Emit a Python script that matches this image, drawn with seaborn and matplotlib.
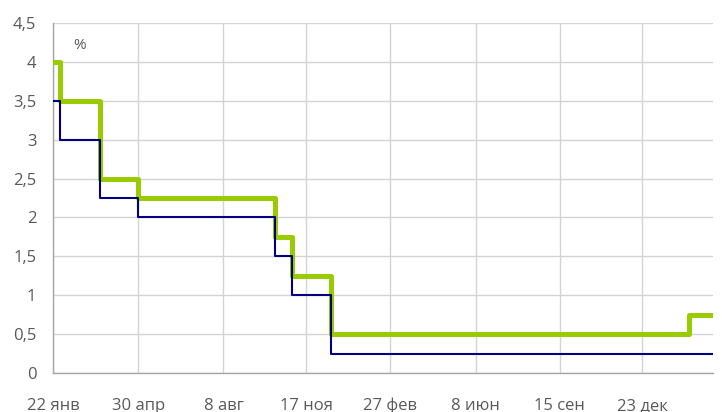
import numpy as np
import pandas as pd
import matplotlib
matplotlib.use('Agg')
import matplotlib.pyplot as plt
import seaborn as sns
from pandas.tseries.holiday import USFederalHolidayCalendar

# ставки: дата изменения и новый уровень (последняя дата - конец ряда)
navy_dates = ['2008-01-22', '2008-01-30', '2008-03-18', '2008-04-30',
              '2008-10-08', '2008-10-29', '2008-12-16', '2010-03-19']
navy_rates = [3.5, 3.0, 2.25, 2.0, 1.5, 1.0, 0.25, 0.25]

green_dates = ['2008-01-22', '2008-01-30', '2008-03-18', '2008-04-30',
               '2008-10-08', '2008-10-29', '2008-12-16', '2010-02-19', '2010-03-19']
green_rates = [4.0, 3.5, 2.5, 2.25, 1.75, 1.25, 0.5, 0.75, 0.75]

tick_dates = ['2008-01-22', '2008-04-30', '2008-08-08', '2008-11-17',
              '2009-02-27', '2009-06-08', '2009-09-15', '2009-12-23']
tick_labels = ['22 янв', '30 апр', '8 авг', '17 ноя', '27 фев', '8 июн', '15 сен', '23 дек']

y_ticks = [0, 0.5, 1, 1.5, 2, 2.5, 3, 3.5, 4, 4.5]
y_labels = ['0', '0,5', '1', '1,5', '2', '2,5', '3', '3,5', '4', '4,5']

# ось по рабочим дням (как в Excel-графике)
hol = USFederalHolidayCalendar().holidays('2008-01-01', '2010-12-31').values.astype('datetime64[D]')
start = np.datetime64('2008-01-22')


def bpos(dates):
    return np.busday_count(start, np.array(dates, dtype='datetime64[D]'), holidays=hol)


green = pd.DataFrame({'x': bpos(green_dates), 'rate': green_rates})
navy = pd.DataFrame({'x': bpos(navy_dates), 'rate': navy_rates})

sns.set_style('white')
plt.rcParams['font.family'] = ['Open Sans', 'DejaVu Sans']

fig = plt.figure(figsize=(7.22, 4.12), dpi=100)
ax = fig.add_axes([53 / 722, 39 / 412, 660 / 722, 350 / 412])

sns.lineplot(data=green, x='x', y='rate', ax=ax, color='#99cc00', linewidth=3.6,
             drawstyle='steps-post', zorder=3)
sns.lineplot(data=navy, x='x', y='rate', ax=ax, color='#000080', linewidth=1.5,
             drawstyle='steps-post', zorder=4)

ax.set_xlim(0, green['x'].max())
ax.set_ylim(0, 4.5)
ax.set_xticks(bpos(tick_dates))
ax.set_xticklabels(tick_labels)
ax.set_yticks(y_ticks)
ax.set_yticklabels(y_labels)
ax.set_xlabel('')
ax.set_ylabel('')

ax.grid(True, color='#d4d4d4', linewidth=1)
ax.set_axisbelow(True)
for s in ['top', 'right']:
    ax.spines[s].set_visible(False)
for s in ['left', 'bottom']:
    ax.spines[s].set_color('#a6a6a6')
    ax.spines[s].set_linewidth(1)

ax.tick_params(axis='both', direction='out', length=5, width=1, color='#a6a6a6',
               labelcolor='#595959', labelsize=12)
ax.tick_params(axis='x', pad=13)
ax.tick_params(axis='y', pad=7)

ax.text(0.03, 0.935, '%', transform=ax.transAxes, fontsize=11, color='#595959',
        ha='left', va='center')

fig.savefig('out.png', dpi=100)
